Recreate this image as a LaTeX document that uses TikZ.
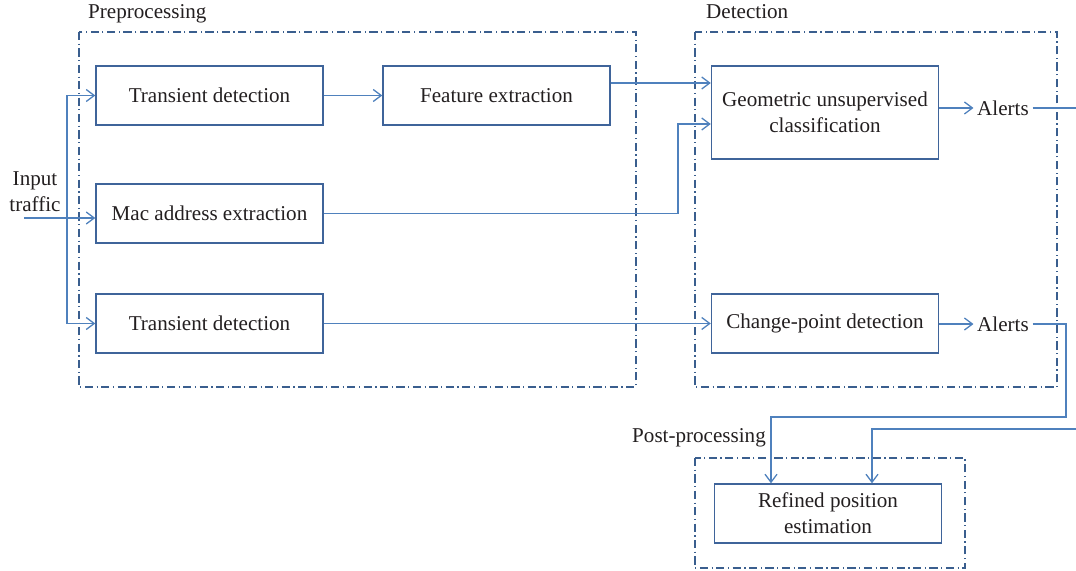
\documentclass[tikz,border=0pt]{standalone}
\usepackage{fontspec}
\setmainfont{Liberation Serif}
\usetikzlibrary{calc,arrows.meta}

\definecolor{linie}{HTML}{4F81BD}
\definecolor{rand}{HTML}{3F649A}
\definecolor{gruppe}{HTML}{3A5E8E}
\definecolor{schrift}{HTML}{231F20}

\tikzset{
  blk/.style={draw=rand, line width=1.2pt, minimum width=6.81cm, minimum height=1.77cm,
    align=center, text=schrift, inner sep=2pt},
  lbl/.style={text=schrift, inner sep=0pt, anchor=base west},
  conn/.style={draw=linie, line width=1.2pt, -{Straight Barb[length=2.4mm,width=3.6mm,line width=1.1pt]}},
  grp/.style={draw=gruppe, line width=1pt, dash pattern=on 7pt off 3pt on 1pt off 3pt}
}

\begin{document}
\begin{tikzpicture}[x=0.03cm, y=-0.03cm, font=\fontsize{18}{22}\selectfont]
  \useasboundingbox (0,0) rectangle (1076,571);
  \clip (0,0) rectangle (1076,571);

  % 三个虚线框
  \draw[grp] (79,32) rectangle (636,387);
  \draw[grp] (695,32) rectangle (1057,387);
  \draw[grp] (695,458) rectangle (965,568);
  \node[lbl] (pre) at (88,19) {Preprocessing};
  \node[lbl] (det) at (706,19) {Detection};
  \node[lbl] (post) at (632,442) {Post-processing};

  % 方框
  \node[blk] (tda) at (209.5,95.5) {Transient detection};
  \node[blk] (fe)  at (496.5,95.5) {Feature extraction};
  \node[blk] (mac) at (209.5,213.5) {Mac address extraction};
  \node[blk] (tdb) at (209.5,323.5) {Transient detection};
  \node[blk, minimum height=2.79cm] (guc) at (825,112.5) {Geometric unsupervised\\classification};
  \node[blk] (cpd) at (825,323.5) {Change-point detection};
  \node[blk] (ref) at (828,513.5) {Refined position\\estimation};
  \node[lbl, anchor=center, inner sep=3pt] (ala) at (1003,108) {Alerts};
  \node[lbl, anchor=center, inner sep=3pt] (alb) at (1003,324) {Alerts};
  \node[text=schrift, align=center, inner sep=0pt] (inp) at (35,192) {Input\\traffic};

  % 输入
  \coordinate (in) at (24,218);
  \coordinate (split) at (67,218);
  \draw[conn] (in) -- (in -| mac.west);
  \draw[conn] (split) |- (tda.west);
  \draw[conn] (split) |- (tdb.west);

  % 预处理 -> 检测
  \coordinate (ga) at ($(guc.west)+(0,-29.5)$);
  \coordinate (gb) at ($(guc.west)+(0,11.5)$);
  \draw[conn] (tda) -- (fe);
  \draw[conn] (ga -| fe.east) -- (ga);
  \draw[conn] (mac.east) -| ($(gb)+(-33,0)$) -- (gb);
  \draw[conn] (tdb) -- (cpd);
  \draw[conn] (guc.east |- ala) -- (ala);
  \draw[conn] (cpd.east |- alb) -- (alb);

  % 检测 -> 后处理
  \coordinate (ra) at ($(ref.north)+(44,0)$);
  \coordinate (rb) at ($(ref.north)+(-57,0)$);
  \draw[conn] (ala.east) -- (1085,108) |- (1085,429) -| (ra);
  \draw[conn] (alb.east) -| (1066,417) -| (rb);
\end{tikzpicture}
\end{document}
